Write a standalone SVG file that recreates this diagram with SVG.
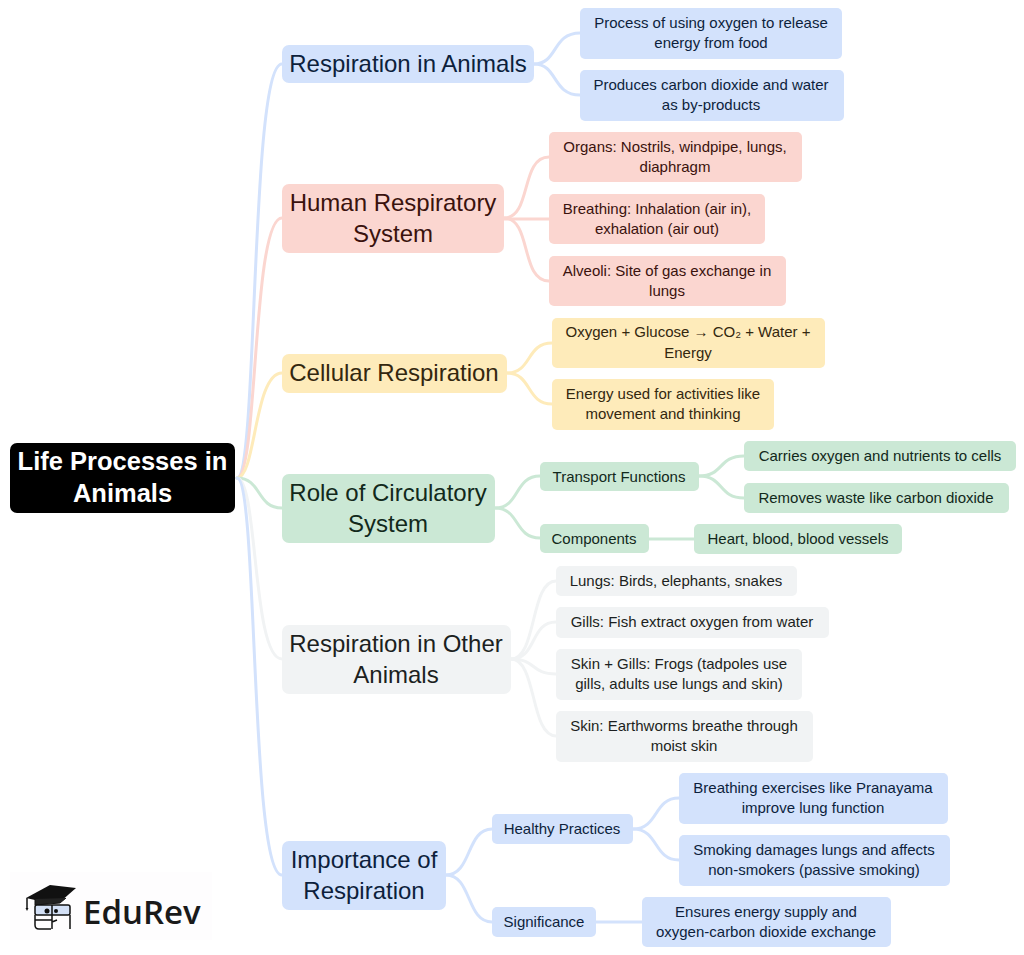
<svg xmlns="http://www.w3.org/2000/svg" width="1024" height="955" viewBox="0 0 1024 955">
<style>
text{font-family:"Liberation Sans",Arial,sans-serif;text-anchor:middle}
.t1{font-size:24px}.t2{font-size:15px}
.c{fill:none;stroke-width:3;stroke-linecap:round}
.blue rect{fill:#d3e2fc}.blue text{fill:#0d1f3c}
.red rect{fill:#fbd6d0}.red text{fill:#3a120d}
.yel rect{fill:#feebba}.yel text{fill:#33270f}
.grn rect{fill:#cbe8d5}.grn text{fill:#12291b}
.gry rect{fill:#f1f3f4}.gry text{fill:#1c1f21}
.cb{stroke:#d3e2fc}.cr{stroke:#fbd6d0}.cy{stroke:#feebba}.cg{stroke:#cbe8d5}.cx{stroke:#f1f3f4}
</style>
<rect x="10" y="872" width="202" height="68" fill="#fefdfe"/>
<g id="connectors">
<path class="c cb" d="M237 478C258 478 250 64 282 64"/>
<path class="c cr" d="M237 478C258 478 252 218 282 218"/>
<path class="c cy" d="M237 478C256 478 254 373 282 373"/>
<path class="c cg" d="M237 478C262 478 256 508 282 508"/>
<path class="c cx" d="M237 478C258 478 252 659 282 659"/>
<path class="c cb" d="M237 478C258 478 250 875 282 875"/>
<path class="c cb" d="M534 64C558 64 552 33 580 33"/>
<path class="c cb" d="M534 64C558 64 552 95 580 95"/>
<path class="c cr" d="M504 218C532 218 520 157 549 157"/>
<path class="c cr" d="M504 219H549"/>
<path class="c cr" d="M504 218C532 218 520 281 549 281"/>
<path class="c cy" d="M507 373C532 373 526 343 552 343"/>
<path class="c cy" d="M507 373C532 373 526 404 552 404"/>
<path class="c cg" d="M495 508C520 508 514 476 540 476"/>
<path class="c cg" d="M495 508C520 508 514 538 540 538"/>
<path class="c cg" d="M699 476C724 476 718 456 744 456"/>
<path class="c cg" d="M699 476C724 476 718 498 744 498"/>
<path class="c cg" d="M649 539H694"/>
<path class="c cx" d="M511 659C537 659 530 581 556 581"/>
<path class="c cx" d="M511 659C537 659 530 622 556 622"/>
<path class="c cx" d="M511 659C537 659 530 674 556 674"/>
<path class="c cx" d="M511 659C537 659 530 736 556 736"/>
<path class="c cb" d="M446 875C472 875 466 829 492 829"/>
<path class="c cb" d="M446 875C472 875 466 922 492 922"/>
<path class="c cb" d="M633 829C659 829 653 798 679 798"/>
<path class="c cb" d="M633 829C659 829 653 860 679 860"/>
<path class="c cb" d="M596 922H642"/>
</g>
<g id="root"><rect x="10" y="443" width="225" height="70" rx="7" fill="#000"/><text x="122.500" y="470" font-size="25.500" font-weight="700" fill="#fff">Life Processes in</text><text x="122.500" y="502" font-size="25.500" font-weight="700" fill="#fff">Animals</text></g>

<g id="n-respiration" class="blue"><rect x="282" y="45" width="252" height="38" rx="7"/><text class="t1" x="408" y="72">Respiration in Animals</text></g>
<g id="n-process" class="blue"><rect x="580" y="8" width="262" height="51" rx="5"/><text class="t2" x="711" y="28">Process of using oxygen to release</text><text class="t2" x="711" y="48">energy from food</text></g>
<g id="n-produces" class="blue"><rect x="580" y="70" width="264" height="51" rx="5"/><text class="t2" x="711" y="90">Produces carbon dioxide and water</text><text class="t2" x="711" y="110">as by-products</text></g>

<g id="n-human" class="red"><rect x="282" y="184" width="222" height="69" rx="7"/><text class="t1" x="393" y="211">Human Respiratory</text><text class="t1" x="393" y="242">System</text></g>
<g id="n-organs" class="red"><rect x="549" y="132" width="253" height="50" rx="5"/><text class="t2" x="675" y="152">Organs: Nostrils, windpipe, lungs,</text><text class="t2" x="675" y="172">diaphragm</text></g>
<g id="n-breathing" class="red"><rect x="549" y="194" width="216" height="50" rx="5"/><text class="t2" x="657" y="214">Breathing: Inhalation (air in),</text><text class="t2" x="657" y="234">exhalation (air out)</text></g>
<g id="n-alveoli" class="red"><rect x="549" y="256" width="237" height="50" rx="5"/><text class="t2" x="667" y="276">Alveoli: Site of gas exchange in</text><text class="t2" x="667" y="296">lungs</text></g>

<g id="n-cellular" class="yel"><rect x="282" y="354" width="225" height="39" rx="7"/><text class="t1" x="394" y="381">Cellular Respiration</text></g>
<g id="n-oxygen" class="yel"><rect x="552" y="318" width="273" height="50" rx="5"/><text class="t2" x="688" y="337">Oxygen + Glucose → CO₂ + Water +</text><text class="t2" x="688" y="358">Energy</text></g>
<g id="n-energy" class="yel"><rect x="552" y="379" width="222" height="51" rx="5"/><text class="t2" x="663" y="399">Energy used for activities like</text><text class="t2" x="663" y="419">movement and thinking</text></g>

<g id="n-role" class="grn"><rect x="282" y="474" width="213" height="69" rx="7"/><text class="t1" x="388" y="501">Role of Circulatory</text><text class="t1" x="388" y="532">System</text></g>
<g id="n-transport" class="grn"><rect x="540" y="462" width="159" height="29" rx="5"/><text class="t2" x="619" y="482">Transport Functions</text></g>
<g id="n-components" class="grn"><rect x="540" y="524" width="109" height="29" rx="5"/><text class="t2" x="594" y="544">Components</text></g>
<g id="n-carries" class="grn"><rect x="744" y="441" width="272" height="30" rx="5"/><text class="t2" x="880" y="461">Carries oxygen and nutrients to cells</text></g>
<g id="n-removes" class="grn"><rect x="744" y="483" width="265" height="30" rx="5"/><text class="t2" x="876" y="503">Removes waste like carbon dioxide</text></g>
<g id="n-heart" class="grn"><rect x="694" y="524" width="208" height="30" rx="5"/><text class="t2" x="798" y="544">Heart, blood, blood vessels</text></g>

<g id="n-other" class="gry"><rect x="282" y="625" width="229" height="69" rx="7"/><text class="t1" x="396" y="652">Respiration in Other</text><text class="t1" x="396" y="683">Animals</text></g>
<g id="n-lungs" class="gry"><rect x="556" y="566" width="241" height="30" rx="5"/><text class="t2" x="676" y="586">Lungs: Birds, elephants, snakes</text></g>
<g id="n-gills" class="gry"><rect x="556" y="607" width="273" height="31" rx="5"/><text class="t2" x="692" y="627">Gills: Fish extract oxygen from water</text></g>
<g id="n-skingills" class="gry"><rect x="556" y="649" width="246" height="51" rx="5"/><text class="t2" x="679" y="669">Skin + Gills: Frogs (tadpoles use</text><text class="t2" x="679" y="689">gills, adults use lungs and skin)</text></g>
<g id="n-skin" class="gry"><rect x="556" y="711" width="257" height="51" rx="5"/><text class="t2" x="684" y="731">Skin: Earthworms breathe through</text><text class="t2" x="684" y="751">moist skin</text></g>

<g id="n-importance" class="blue"><rect x="282" y="841" width="164" height="69" rx="7"/><text class="t1" x="364" y="868">Importance of</text><text class="t1" x="364" y="899">Respiration</text></g>
<g id="n-healthy" class="blue"><rect x="492" y="814" width="141" height="30" rx="5"/><text class="t2" x="562" y="834">Healthy Practices</text></g>
<g id="n-significance" class="blue"><rect x="492" y="907" width="104" height="30" rx="5"/><text class="t2" x="544" y="927">Significance</text></g>
<g id="n-exercises" class="blue"><rect x="679" y="773" width="269" height="51" rx="5"/><text class="t2" x="813" y="793">Breathing exercises like Pranayama</text><text class="t2" x="813" y="813">improve lung function</text></g>
<g id="n-smoking" class="blue"><rect x="679" y="835" width="271" height="51" rx="5"/><text class="t2" x="814" y="855">Smoking damages lungs and affects</text><text class="t2" x="814" y="875">non-smokers (passive smoking)</text></g>
<g id="n-ensures" class="blue"><rect x="642" y="897" width="249" height="50" rx="5"/><text class="t2" x="766" y="917">Ensures energy supply and</text><text class="t2" x="766" y="937">oxygen-carbon dioxide exchange</text></g>

<g id="logo">
<path d="M26 898L50 885L76 888L60 902L35 900Z" fill="#111"/>
<path d="M35 899V905L60 903L66 898" fill="#222" stroke="#111" stroke-width="1"/>
<path d="M27 898V908" stroke="#111" stroke-width="1.500" fill="none"/>
<path d="M25.500 908H28.500L27 911Z" fill="#111"/>
<rect x="35" y="905" width="35" height="10" rx="2" fill="#d3e0f6" stroke="#111" stroke-width="1.500"/>
<path d="M35 915V925Q35 929 39 929H51M70 915V929M35 920H52M52 905V929M52 922L57 920" fill="none" stroke="#111" stroke-width="1.500"/>
<circle cx="47" cy="911" r="2.500" fill="#111"/><circle cx="56" cy="911" r="2" fill="#111"/>
<text x="83" y="924" font-size="33" font-weight="600" style="font-family:'Open Sans',sans-serif;text-anchor:start" fill="#1a1a1a">EduRev</text>
</g>
</svg>
